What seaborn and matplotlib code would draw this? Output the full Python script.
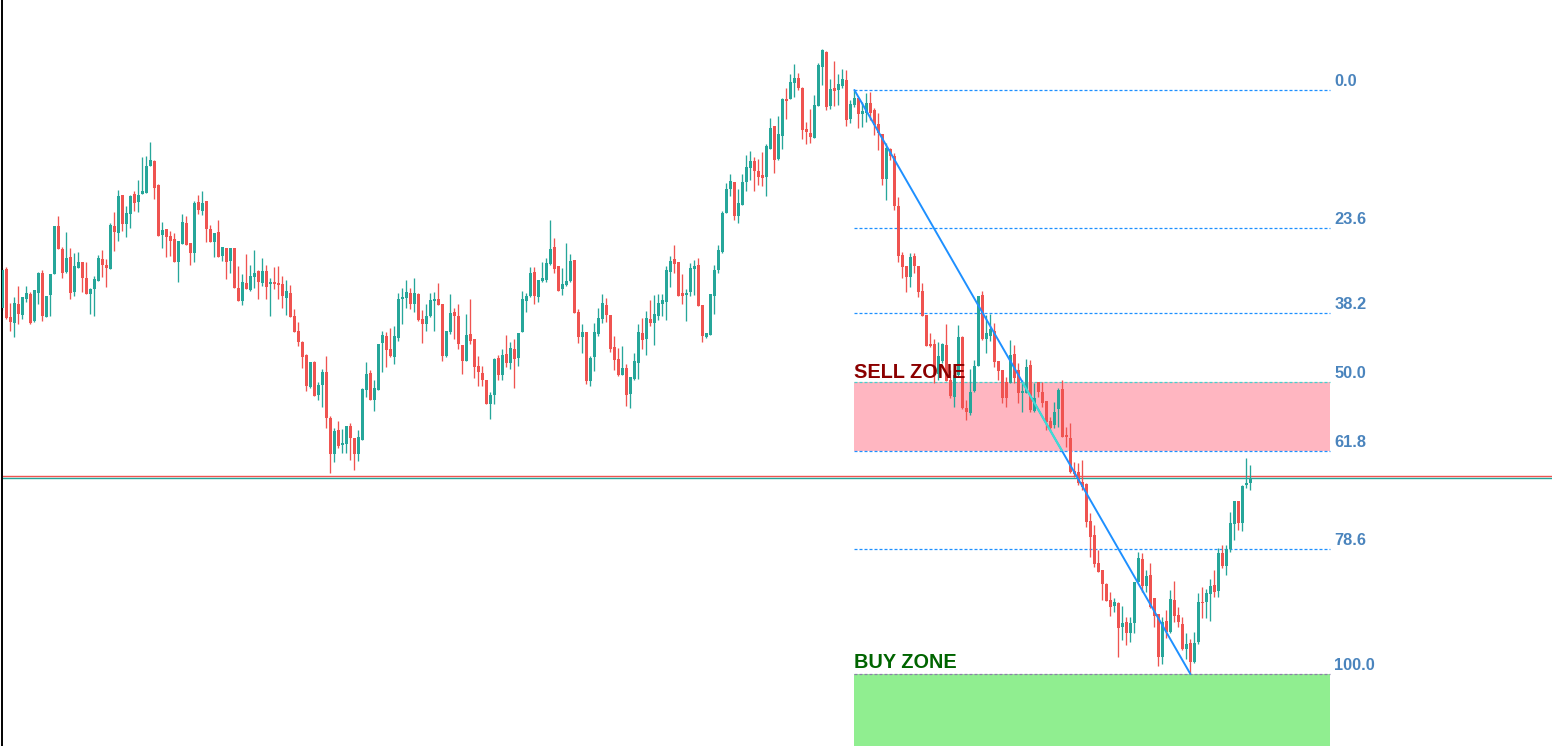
import numpy as np
import pandas as pd
import matplotlib
matplotlib.use("Agg")
import matplotlib.pyplot as plt
import seaborn as sns
from matplotlib.patches import Rectangle

sns.set_theme(style="white")
plt.rcParams["font.family"] = ["Liberation Sans", "DejaVu Sans"]

# ---------------- data (price points) ----------------
opens = [692, 731, 683, 677, 696, 685, 701, 706, 679, 707, 727, 683, 705, 726, 774, 751, 728, 743, 708, 732,
         738, 722, 706, 711, 719, 741, 735, 731, 774, 767, 805, 776, 786, 806, 798, 806, 807, 834, 839, 815,
         765, 771, 764, 761, 738, 756, 777, 757, 747, 798, 789, 799, 771, 758, 768, 744, 752, 739, 752, 712,
         699, 717, 710, 723, 729, 717, 729, 716, 718, 717, 716, 702, 707, 684, 669, 658, 645, 613, 638, 605,
         615, 628, 582, 546, 570, 555, 556, 574, 562, 546, 560, 610, 627, 600, 610, 657, 664, 651, 643, 662,
         701, 702, 707, 696, 706, 681, 676, 684, 699, 701, 696, 644, 668, 688, 684, 655, 639, 666, 661, 634,
         627, 620, 596, 605, 642, 625, 646, 637, 651, 642, 668, 699, 704, 728, 703, 719, 720, 736, 753, 734,
         711, 715, 719, 740, 688, 663, 668, 619, 643, 666, 681, 695, 685, 653, 641, 625, 632, 606, 621, 637,
         667, 661, 681, 677, 684, 696, 698, 728, 741, 738, 707, 705, 708, 731, 735, 695, 663, 665, 704, 730,
         748, 787, 811, 818, 784, 795, 818, 832, 839, 829, 825, 823, 851, 874, 841, 864, 901, 901, 917, 922,
         912, 871, 867, 862, 894, 933, 948, 894, 912, 910, 914, 920, 881, 895, 902, 886, 887, 897, 890, 876,
         866, 821, 851, 844, 794, 745, 734, 723, 744, 734, 709, 685, 656, 656, 626, 639, 655, 620, 603, 625,
         663, 592, 587, 609, 634, 705, 661, 664, 669, 639, 630, 618, 617, 646, 630, 607, 607, 635, 589, 618,
         608, 599, 579, 575, 591, 611, 565, 562, 529, 528, 518, 516, 479, 465, 437, 430, 416, 400, 394, 397,
         373, 378, 367, 377, 418, 441, 414, 425, 402, 386, 343, 379, 368, 400, 385, 376, 351, 357, 338, 358,
         398, 398, 406, 415, 409, 447, 434, 451, 476, 499, 477, 515, 517]
highs = [732, 733, 697, 703, 714, 703, 714, 708, 710, 728, 730, 704, 726, 774, 784, 753, 768, 752, 747, 748,
         738, 738, 712, 724, 745, 750, 741, 777, 788, 810, 805, 794, 805, 809, 820, 843, 844, 858, 840, 816,
         778, 771, 769, 767, 759, 786, 784, 757, 799, 805, 809, 799, 775, 767, 780, 753, 752, 752, 752, 734,
         726, 746, 735, 750, 730, 742, 735, 722, 733, 734, 724, 720, 715, 691, 678, 659, 646, 638, 639, 618,
         631, 644, 584, 572, 579, 571, 574, 577, 562, 570, 612, 638, 630, 620, 656, 669, 668, 672, 674, 707,
         712, 720, 712, 722, 707, 690, 696, 707, 708, 717, 696, 669, 706, 692, 696, 655, 686, 701, 661, 644,
         634, 620, 608, 642, 645, 651, 665, 658, 661, 667, 709, 707, 733, 733, 720, 738, 742, 780, 762, 734,
         732, 757, 746, 740, 691, 676, 668, 644, 677, 692, 706, 702, 685, 664, 652, 654, 636, 623, 647, 676,
         682, 689, 700, 705, 706, 706, 734, 744, 755, 738, 726, 711, 737, 740, 742, 695, 667, 706, 735, 755,
         789, 817, 826, 818, 811, 826, 845, 849, 843, 841, 848, 856, 882, 874, 884, 902, 912, 926, 936, 927,
         913, 878, 891, 905, 937, 951, 949, 921, 939, 926, 931, 930, 900, 910, 902, 898, 907, 908, 892, 887,
         866, 857, 852, 847, 803, 748, 734, 747, 747, 734, 717, 685, 667, 661, 658, 657, 676, 630, 631, 675,
         664, 600, 631, 640, 704, 709, 685, 686, 677, 639, 630, 623, 660, 655, 637, 620, 641, 640, 617, 618,
         618, 599, 583, 598, 612, 620, 573, 577, 538, 537, 540, 517, 487, 475, 450, 430, 417, 408, 402, 398,
         394, 383, 383, 418, 448, 447, 430, 437, 402, 386, 383, 390, 410, 419, 393, 383, 367, 361, 368, 407,
         413, 411, 421, 430, 452, 455, 455, 488, 499, 499, 515, 542, 535]
lows = [690, 681, 669, 663, 676, 681, 698, 676, 678, 696, 679, 683, 684, 726, 751, 722, 727, 701, 704, 732,
        708, 706, 686, 684, 719, 723, 713, 731, 749, 759, 769, 763, 772, 789, 788, 806, 807, 834, 801, 764,
        752, 743, 744, 738, 718, 756, 755, 735, 738, 786, 785, 758, 758, 743, 743, 739, 721, 727, 712, 699,
        695, 711, 709, 712, 701, 714, 701, 684, 711, 701, 692, 685, 683, 668, 654, 632, 609, 612, 604, 600,
        593, 572, 527, 538, 552, 547, 547, 540, 530, 539, 560, 603, 600, 589, 610, 628, 633, 643, 636, 659,
        676, 692, 691, 688, 679, 657, 669, 683, 669, 695, 639, 643, 666, 661, 651, 626, 639, 656, 622, 614,
        614, 596, 581, 596, 620, 620, 633, 631, 612, 634, 668, 688, 703, 696, 698, 718, 718, 735, 727, 709,
        705, 714, 718, 687, 657, 647, 616, 614, 629, 664, 677, 678, 648, 630, 624, 625, 594, 592, 620, 621,
        651, 645, 674, 655, 680, 684, 680, 713, 727, 704, 696, 679, 704, 705, 694, 658, 662, 665, 686, 727,
        747, 787, 804, 780, 777, 795, 809, 820, 809, 815, 814, 804, 851, 827, 840, 851, 881, 901, 903, 910,
        861, 856, 857, 862, 894, 915, 890, 891, 894, 895, 912, 874, 877, 893, 872, 873, 878, 880, 865, 850,
        815, 800, 840, 790, 738, 722, 708, 713, 727, 703, 684, 654, 653, 617, 620, 637, 619, 602, 593, 623,
        591, 580, 585, 608, 634, 660, 647, 659, 633, 620, 597, 593, 617, 617, 597, 588, 607, 588, 588, 603,
        593, 570, 570, 572, 573, 563, 553, 527, 523, 515, 510, 473, 443, 433, 428, 400, 399, 384, 388, 343,
        360, 355, 358, 367, 418, 408, 408, 392, 373, 334, 336, 362, 367, 378, 373, 350, 341, 326, 337, 356,
        382, 382, 379, 403, 403, 432, 425, 448, 460, 470, 469, 512, 510]
closes = [730, 682, 678, 697, 686, 703, 707, 677, 710, 727, 684, 704, 726, 774, 751, 727, 742, 707, 734, 738,
          722, 706, 711, 721, 742, 735, 732, 775, 768, 804, 776, 787, 804, 797, 805, 809, 834, 840, 812, 764,
          770, 763, 759, 738, 759, 778, 755, 747, 797, 790, 797, 771, 758, 767, 743, 753, 738, 752, 712, 699,
          718, 711, 724, 727, 718, 729, 713, 718, 716, 715, 704, 709, 683, 668, 658, 643, 614, 638, 604, 615,
          628, 582, 546, 569, 554, 557, 574, 562, 546, 563, 611, 626, 600, 612, 656, 665, 650, 644, 664, 701,
          703, 708, 696, 707, 680, 676, 684, 700, 701, 695, 644, 669, 687, 684, 656, 639, 665, 659, 633, 628,
          620, 596, 605, 641, 625, 645, 637, 652, 641, 667, 701, 704, 727, 704, 720, 722, 737, 751, 731, 709,
          716, 719, 739, 687, 663, 668, 619, 642, 668, 682, 697, 685, 651, 640, 625, 632, 605, 623, 639, 668,
          660, 682, 677, 686, 697, 700, 730, 739, 736, 704, 704, 707, 732, 734, 694, 664, 667, 706, 730, 750,
          787, 811, 819, 784, 797, 818, 833, 839, 829, 823, 822, 854, 872, 840, 866, 901, 899, 918, 922, 912,
          870, 868, 863, 895, 935, 950, 893, 911, 909, 916, 921, 880, 896, 902, 886, 889, 897, 887, 875, 867,
          821, 852, 844, 794, 744, 733, 723, 743, 734, 708, 684, 654, 654, 626, 644, 656, 619, 604, 625, 663,
          592, 588, 608, 634, 704, 661, 667, 671, 638, 629, 602, 602, 645, 622, 607, 609, 633, 590, 602, 608,
          597, 578, 572, 588, 610, 563, 563, 528, 526, 517, 513, 478, 463, 436, 428, 416, 399, 393, 398, 372,
          377, 367, 377, 418, 442, 414, 424, 393, 384, 343, 378, 368, 401, 384, 378, 351, 356, 338, 357, 398,
          397, 407, 414, 408, 447, 434, 451, 477, 499, 477, 514, 517, 522]

fib_ratios = [0.0, 0.236, 0.382, 0.5, 0.618, 0.786, 1.0]
fib_labels = ["0.0", "23.6", "38.2", "50.0", "61.8", "78.6", "100.0"]
swing_high_idx = 213
swing_low_idx = 297
fib_end_idx = 332
bid_price = 522
ask_price = 524

UP = "#26a69a"
DOWN = "#ef5350"

df = pd.DataFrame({"open": opens, "high": highs, "low": lows, "close": closes})
df["idx"] = np.arange(len(df))
df["up"] = df["close"] >= df["open"]
df["color"] = np.where(df["up"], UP, DOWN)

hi = df.loc[swing_high_idx, "high"]
lo = df.loc[swing_low_idx, "low"]
levels = [hi - r * (hi - lo) for r in fib_ratios]

# ---------------- figure ----------------
fig = plt.figure(figsize=(15.52, 7.46), dpi=100)
ax = fig.add_axes([0.001, 0.0, 0.999, 1.0])
ax.set_facecolor("white")
ax.set_xlim(-0.2, 387.4)
ax.set_ylim(254, 1000)

# zones
sell = Rectangle((swing_high_idx, levels[4]), fib_end_idx - swing_high_idx, levels[3] - levels[4],
                 facecolor="#ffb6c1", edgecolor="none", zorder=0.5)
ax.add_patch(sell)
ax.add_patch(Rectangle((swing_high_idx, 200), fib_end_idx - swing_high_idx, levels[6] - 200,
                       facecolor="#90ee90", edgecolor="none", zorder=0.5))

# fib lines
line_colors = ["#1e90ff", "#1e90ff", "#1e90ff", "#48d1cc", "#1e90ff", "#1e90ff", "#8c80a8"]
for lev, lab, col in zip(levels, fib_labels, line_colors):
    ax.plot([swing_high_idx, fib_end_idx], [lev, lev], color=col, lw=0.9,
            linestyle=(0, (2.4, 1.6)), zorder=1)
    ax.text(fib_end_idx + 1.0, lev + 4, lab, color="#4a84bd", fontsize=11.8,
            fontweight="bold", ha="left", va="baseline", zorder=6)

# bid / ask lines
ax.axhline(ask_price, color=DOWN, lw=1.0, zorder=1.5)
ax.axhline(bid_price, color=UP, lw=1.0, zorder=1.5)

# candles
ax.vlines(df["idx"], df["low"], df["high"], colors=df["color"], lw=0.95, zorder=2)
body_bottom = np.minimum(df["open"], df["close"])
body_height = np.maximum(np.abs(df["close"] - df["open"]), 1.5)
ax.bar(df["idx"], body_height, bottom=body_bottom, width=0.82, color=df["color"],
       linewidth=0, zorder=3)

# trend line (swing high -> swing low)
trend = pd.DataFrame({"x": [swing_high_idx, swing_low_idx], "y": [hi, lo]})
sns.lineplot(data=trend, x="x", y="y", ax=ax, color="#1e90ff", lw=1.4, zorder=4)
seg = ax.plot(trend["x"], trend["y"], color="#40e0d0", lw=1.4, zorder=4.1)[0]
seg.set_clip_path(sell)

# zone labels
ax.text(swing_high_idx, levels[3] + 4, "SELL ZONE", color="#8b0000", fontsize=14.3,
        fontweight="bold", ha="left", va="baseline", zorder=6)
ax.text(swing_high_idx, levels[6] + 6, "BUY ZONE", color="#006400", fontsize=14.3,
        fontweight="bold", ha="left", va="baseline", zorder=6)

# axes styling
for s in ["top", "right", "bottom"]:
    ax.spines[s].set_visible(False)
ax.spines["left"].set_color("black")
ax.spines["left"].set_linewidth(1.4)
ax.set_xticks([])
ax.set_yticks([])
ax.set_xlabel("")
ax.set_ylabel("")
if ax.get_legend() is not None:
    ax.get_legend().remove()

fig.savefig("out.png", dpi=100, facecolor="white")
